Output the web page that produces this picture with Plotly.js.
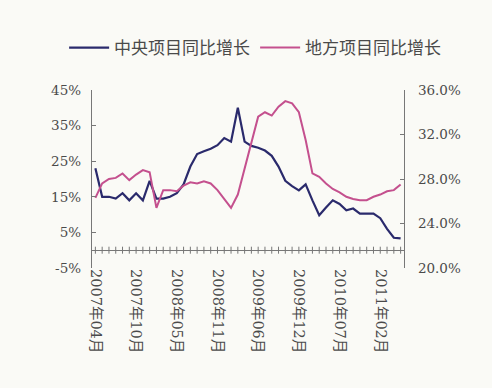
<!DOCTYPE html>
<html>
<head>
<meta charset="utf-8">
<script src="https://cdn.plot.ly/plotly-3.0.1.min.js"></script>
<style>
html,body{margin:0;padding:0;background:#fafaf6;}
#chart{width:492px;height:388px;}
</style>
</head>
<body>
<div id="chart"></div>
<script>
var categories = [
'2007年04月','2007年05月','2007年06月','2007年07月','2007年08月','2007年09月','2007年10月','2007年11月','2007年12月',
'2008年02月','2008年03月','2008年04月','2008年05月','2008年06月','2008年07月','2008年08月','2008年09月','2008年10月','2008年11月','2008年12月',
'2009年02月','2009年03月','2009年04月','2009年05月','2009年06月','2009年07月','2009年08月','2009年09月','2009年10月','2009年11月','2009年12月',
'2010年02月','2010年03月','2010年04月','2010年05月','2010年06月','2010年07月','2010年08月','2010年09月','2010年10月','2010年11月','2010年12月',
'2011年02月','2011年03月','2011年04月','2011年05月'
];
var centralGrowth = [23,15,15,14.5,16,14,16,14,19.5,14.5,14.5,15,16,18.5,23.5,27,27.8,28.5,29.5,31.5,30.5,40,30.5,29.3,28.8,28,26.5,23.5,19.5,18,16.8,18.5,14,9.8,12,14,13,11.2,11.7,10.3,10.3,10.3,9,6,3.5,3.3];
var localGrowth = [26.3,27.6,28,28.1,28.5,27.9,28.4,28.8,28.6,25.4,27,27,26.9,27.4,27.7,27.6,27.8,27.6,27,26.2,25.4,26.6,29,31.3,33.6,34,33.7,34.5,35,34.8,34,31.5,28.5,28.2,27.6,27.1,26.8,26.4,26.2,26.1,26.1,26.4,26.6,26.9,27,27.5];
var tickLabels = ['2007年04月','2007年10月','2008年05月','2008年11月','2009年06月','2009年12月','2010年07月','2011年02月'];
var leftTicks = [-5,5,15,25,35,45];
var rightTicks = [20,24,28,32,36];

var fontFam = 'DejaVu Serif, Noto Sans CJK SC, serif';
var txt = '#4a4a4a';
var axisCol = '#777';

var traces = [
  // minor category ticks on the 0% crossing axis
  {x: categories, y: categories.map(function(){ return 0; }), type: 'scatter', mode: 'markers',
   marker: {symbol: 'line-ns', size: 5, line: {color: axisCol, width: 1}}, showlegend: false, hoverinfo: 'skip', yaxis: 'y'},
  {x: categories, y: centralGrowth, name: '中央项目同比增长', type: 'scatter', mode: 'lines',
   line: {color: '#2a2a6c', width: 2.2}, yaxis: 'y'},
  {x: categories, y: localGrowth, name: '地方项目同比增长', type: 'scatter', mode: 'lines',
   line: {color: '#c4508e', width: 2}, yaxis: 'y2'}
];

var layout = {
  width: 492, height: 388,
  paper_bgcolor: '#fafaf6', plot_bgcolor: 'rgba(0,0,0,0)',
  margin: {l: 92, r: 88, t: 90, b: 120},
  font: {family: fontFam, size: 14, color: txt},
  showlegend: true,
  legend: {orientation: 'h', x: 1.135, xanchor: 'right', y: 1.236, yanchor: 'middle',
           font: {family: 'Noto Sans CJK SC', size: 17, color: txt}, bgcolor: 'rgba(0,0,0,0)', itemwidth: 40},
  xaxis: {type: 'category', range: [-0.5, 45.5], tickmode: 'array', tickvals: tickLabels, ticktext: tickLabels,
          tickangle: 90, ticks: '', showline: false, showgrid: false, zeroline: false,
          tickfont: {family: fontFam, size: 14.5, color: txt}},
  yaxis: {range: [-5, 45], tickmode: 'array', tickvals: leftTicks, ticktext: leftTicks.map(function(v){return v + '%';}),
          showline: true, linecolor: axisCol, linewidth: 1.2, ticks: 'inside', ticklen: 4, tickcolor: axisCol,
          showgrid: false, zeroline: true, zerolinecolor: axisCol, zerolinewidth: 1.2, ticklabelstandoff: 7,
          tickfont: {family: fontFam, size: 13.5, color: txt}},
  yaxis2: {range: [20, 36], overlaying: 'y', side: 'right', tickmode: 'array', tickvals: rightTicks,
           ticktext: rightTicks.map(function(v){return v.toFixed(1) + '%';}),
           showline: true, linecolor: axisCol, linewidth: 1.2, ticks: 'inside', ticklen: 4, tickcolor: axisCol,
           showgrid: false, zeroline: false, ticklabelstandoff: 10,
           tickfont: {family: fontFam, size: 13.5, color: txt}}
};

Plotly.newPlot('chart', traces, layout, {displayModeBar: false, staticPlot: true});
</script>
</body>
</html>
